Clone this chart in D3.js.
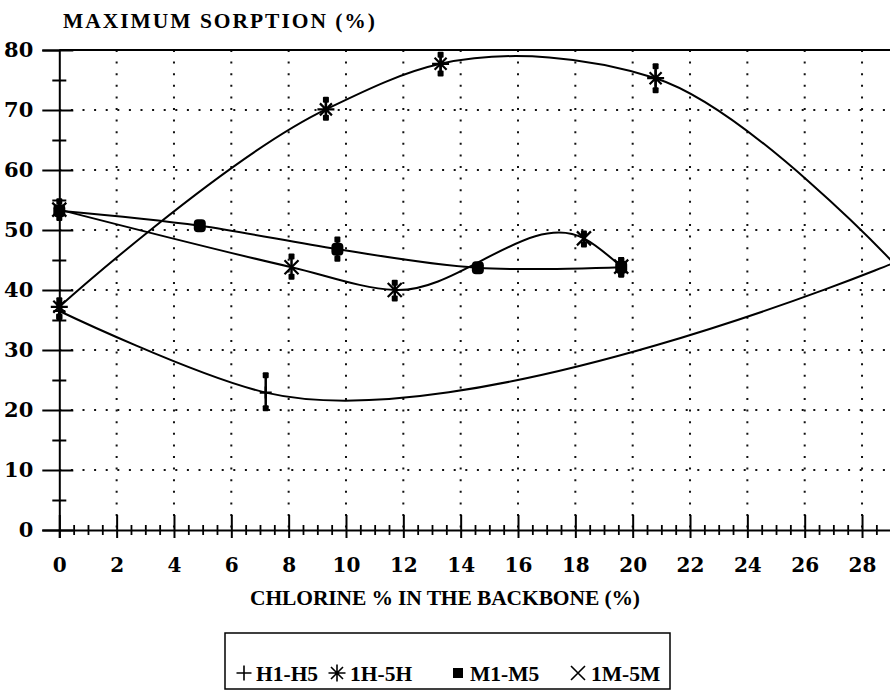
<!DOCTYPE html>
<html>
<head>
<meta charset="utf-8">
<script src="https://cdn.jsdelivr.net/npm/d3@7"></script>
<style>
  html, body { margin: 0; padding: 0; background: #fff; }
  svg { display: block; }
</style>
</head>
<body>
<svg id="chart" width="890" height="691"></svg>
<script>
// ---- data -------------------------------------------------------------
const xMajorTicks = [0, 2, 4, 6, 8, 10, 12, 14, 16, 18, 20, 22, 24, 26, 28];
const yMajorTicks = [0, 10, 20, 30, 40, 50, 60, 70, 80];
const yMinorTicks = [5, 15, 25, 35, 45, 55, 65, 75];

const seriesNames = ["H1-H5", "1H-5H", "M1-M5", "1M-5M"];

// H1-H5
const h1h5X  = [0, 7.2, 29.1];
const h1h5Y  = [36.5, 22.9, 44.5];
const h1h5Lo = [35.6, 20.3, null];
const h1h5Hi = [37.6, 25.8, null];

// 1H-5H
const h1h5bX  = [0, 9.3, 13.3, 20.8, 29.1];
const h1h5bY  = [37.2, 70.1, 77.7, 75.3, 44.5];
const h1h5bLo = [35.5, 68.7, 76.1, 73.3, null];
const h1h5bHi = [38.3, 71.7, 79.2, 77.3, null];

// M1-M5
const m1m5X  = [0, 4.9, 9.7, 14.6, 19.6];
const m1m5Y  = [53.2, 50.7, 46.8, 43.7, 43.8];
const m1m5Lo = [null, null, 45.2, null, 42.6];
const m1m5Hi = [null, null, 48.4, null, 45.0];

// 1M-5M
const m1m5bX  = [0, 8.1, 11.7, 18.3, 19.6];
const m1m5bY  = [53.4, 43.8, 40.0, 48.6, 43.9];
const m1m5bLo = [52.0, 42.2, 38.6, 47.6, 42.6];
const m1m5bHi = [54.8, 45.6, 41.2, 49.4, 45.0];

// ---- layout -----------------------------------------------------------
const svg = d3.select("#chart");
const x = d3.scaleLinear().domain([0, 29]).range([59.3, 890.7]);
const y = d3.scaleLinear().domain([0, 80]).range([530, 50]);
const numFont = "'DejaVu Serif', serif";
const txtFont = "'Liberation Serif', 'Times New Roman', serif";

function rows(xs, ys, lo, hi) {
  return xs.map((v, i) => ({ x: v, y: ys[i], lo: lo[i], hi: hi[i] }));
}
const series = [
  { name: seriesNames[0], sym: "plus",     data: rows(h1h5X, h1h5Y, h1h5Lo, h1h5Hi) },
  { name: seriesNames[1], sym: "asterisk", data: rows(h1h5bX, h1h5bY, h1h5bLo, h1h5bHi) },
  { name: seriesNames[2], sym: "square",   data: rows(m1m5X, m1m5Y, m1m5Lo, m1m5Hi) },
  { name: seriesNames[3], sym: "cross",    data: rows(m1m5bX, m1m5bY, m1m5bLo, m1m5bHi) }
];

// clip everything plotted to the right end of the axis
svg.append("defs").append("clipPath").attr("id", "plotClip")
  .append("rect").attr("x", 0).attr("y", 0)
  .attr("width", x(29)).attr("height", 600);

// ---- dotted grid ------------------------------------------------------
const grid = svg.append("g").attr("stroke", "#111").attr("stroke-width", 2)
  .attr("stroke-dasharray", "2 9.6");
grid.selectAll("line.v").data(xMajorTicks.filter(d => d > 0)).join("line")
  .attr("class", "v")
  .attr("x1", d => x(d)).attr("x2", d => x(d))
  .attr("y1", y(80)).attr("y2", y(0));
grid.selectAll("line.h").data(yMajorTicks.filter(d => d > 0 && d < 80)).join("line")
  .attr("class", "h")
  .attr("x1", x(0)).attr("x2", x(29))
  .attr("y1", d => y(d)).attr("y2", d => y(d));

// ---- smoothed curves --------------------------------------------------
const plot = svg.append("g").attr("clip-path", "url(#plotClip)");
const line = d3.line().x(d => x(d.x)).y(d => y(d.y)).curve(d3.curveCatmullRom.alpha(1));
plot.selectAll("path.curve").data(series).join("path")
  .attr("class", "curve")
  .attr("d", s => line(s.data))
  .attr("fill", "none").attr("stroke", "#000").attr("stroke-width", 2);

// ---- markers with error bars -----------------------------------------
const symbolPaths = {
  plus: "M-6,0H6M0,-6V6",
  asterisk: "M-8.5,0H8.5M0,-8.5V8.5M-6,-6L6,6M-6,6L6,-6",
  cross: "M-7,-7L7,7M-7,7L7,-7"
};
function drawSymbol(g, sym) {
  if (sym === "square") {
    g.append("rect").attr("x", -6).attr("y", -6.5).attr("width", 12).attr("height", 13)
      .attr("rx", 4).attr("fill", "#000");
  } else {
    g.append("path").attr("d", symbolPaths[sym]).attr("fill", "none")
      .attr("stroke", "#000").attr("stroke-width", 2.2);
  }
}
series.forEach(s => {
  const pts = s.data.filter(d => d.x < 29);
  const g = plot.append("g");
  pts.forEach(d => {
    if (d.lo != null) {
      g.append("line")
        .attr("x1", x(d.x)).attr("x2", x(d.x))
        .attr("y1", y(d.lo)).attr("y2", y(d.hi))
        .attr("stroke", "#000").attr("stroke-width", 2.5);
      [d.lo, d.hi].forEach(v => {
        g.append("rect").attr("x", x(d.x) - 3).attr("y", y(v) - 3)
          .attr("width", 6).attr("height", 6).attr("rx", 1).attr("fill", "#000");
      });
    }
    const m = g.append("g").attr("transform", `translate(${x(d.x)},${y(d.y)})`);
    drawSymbol(m, s.sym);
  });
});

// ---- axes -------------------------------------------------------------
const yAxis = svg.append("g").attr("transform", `translate(${x(0)},0)`)
  .call(d3.axisLeft(y).tickValues(yMajorTicks).tickSizeOuter(0).tickSize(17).tickPadding(10));
yAxis.select(".domain").attr("stroke-width", 2);
yAxis.selectAll(".tick line").attr("x1", 14).attr("stroke-width", 2);
yAxis.selectAll(".tick text")
  .attr("font-family", numFont).attr("font-weight", "bold").attr("font-size", 21)
  .attr("fill", "#000").attr("x", -26);

const yMinor = svg.append("g").attr("transform", `translate(${x(0)},0)`)
  .call(d3.axisLeft(y).tickValues(yMinorTicks).tickSize(7).tickFormat(""));
yMinor.select(".domain").remove();
yMinor.selectAll(".tick line").attr("x1", 7).attr("stroke-width", 2);

const xAxis = svg.append("g").attr("transform", `translate(0,${y(0)})`)
  .call(d3.axisBottom(x).tickValues(xMajorTicks).tickSizeOuter(0).tickSize(8));
xAxis.select(".domain").attr("stroke-width", 2);
xAxis.selectAll(".tick line").attr("y1", -15).attr("stroke-width", 2);
xAxis.selectAll(".tick text")
  .attr("font-family", numFont).attr("font-weight", "bold").attr("font-size", 20)
  .attr("fill", "#000").attr("y", 42).attr("dy", 0);

const xMinorVals = d3.range(0.5, 29, 0.5).filter(v => v % 2 !== 0);
const xMinor = svg.append("g").attr("transform", `translate(0,${y(0)})`)
  .call(d3.axisBottom(x).tickValues(xMinorVals).tickSize(5).tickFormat(""));
xMinor.select(".domain").remove();
xMinor.selectAll(".tick line").attr("y1", -5).attr("stroke-width", 1.8);

// top frame line
svg.append("line").attr("x1", x(0)).attr("x2", x(29)).attr("y1", y(80)).attr("y2", y(80))
  .attr("stroke", "#000").attr("stroke-width", 2);

// ---- titles -----------------------------------------------------------
svg.append("text").attr("x", 63).attr("y", 28)
  .attr("font-family", txtFont).attr("font-weight", "bold").attr("font-size", 21.5)
  .attr("textLength", 312).attr("lengthAdjust", "spacing")
  .text("MAXIMUM SORPTION (%)");
svg.append("text").attr("x", 250).attr("y", 605)
  .attr("font-family", txtFont).attr("font-weight", "bold").attr("font-size", 21.5)
  .attr("textLength", 390).attr("lengthAdjust", "spacing")
  .text("CHLORINE % IN THE BACKBONE (%)");

// ---- legend -----------------------------------------------------------
const legend = svg.append("g");
legend.append("rect").attr("x", 225).attr("y", 633).attr("width", 445).attr("height", 56)
  .attr("fill", "none").attr("stroke", "#000").attr("stroke-width", 1.5);
const legendSyms = [244, 337, 458, 578];
const legendText = [256, 350, 470, 591];
series.forEach((s, i) => {
  const g = legend.append("g").attr("transform", `translate(${legendSyms[i]},673)`);
  if (s.sym === "square") {
    g.append("rect").attr("x", -5).attr("y", -5).attr("width", 10).attr("height", 10).attr("fill", "#000");
  } else {
    g.append("path").attr("d", s.sym === "plus" ? "M-7.5,0H7.5M0,-7.5V7.5" : symbolPaths[s.sym])
      .attr("fill", "none").attr("stroke", "#000").attr("stroke-width", 1.6);
  }
  legend.append("text").attr("x", legendText[i]).attr("y", 681)
    .attr("font-family", txtFont).attr("font-weight", "bold").attr("font-size", 21.5)
    .text(s.name);
});
</script>
</body>
</html>
